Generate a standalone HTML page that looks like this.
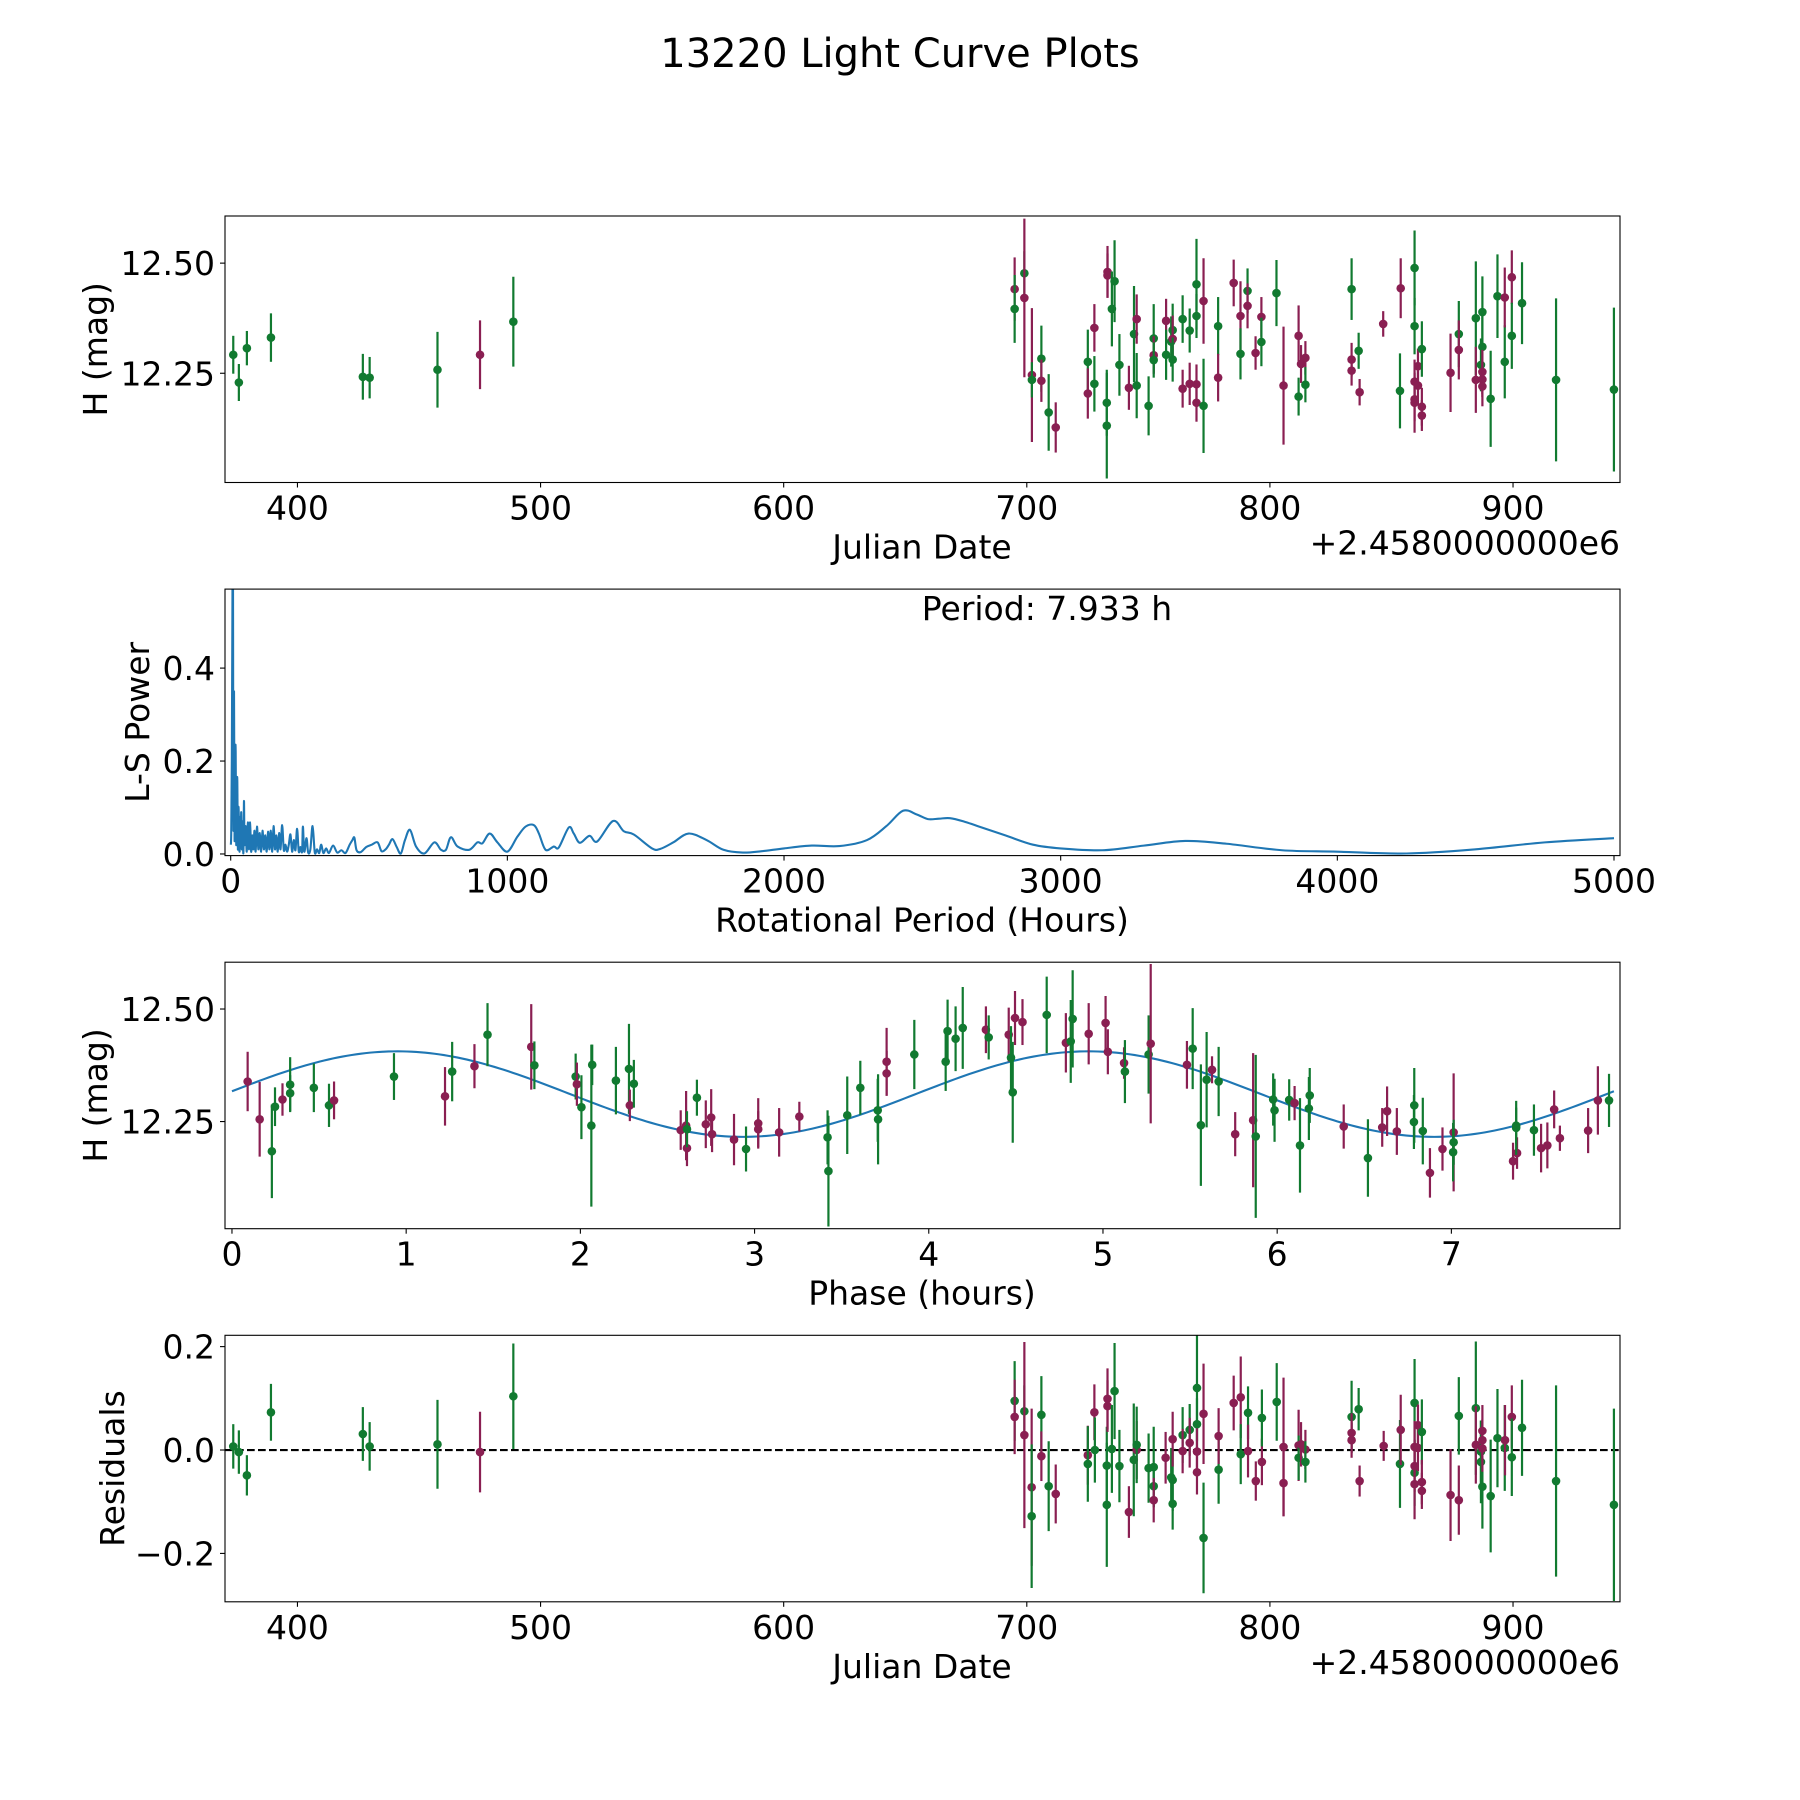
<!DOCTYPE html>
<html><head><meta charset="utf-8"><style>
html,body{margin:0;padding:0;background:#fff;}
svg{display:block;font-family:"DejaVu Sans","Liberation Sans",sans-serif;}
</style></head><body>
<svg id="fig" xmlns="http://www.w3.org/2000/svg" width="1800" height="1800" viewBox="0 0 1800 1800">
<rect x="0" y="0" width="1800" height="1800" fill="#fff"/>
<text x="900" y="67" font-size="40" text-anchor="middle">13220 Light Curve Plots</text>
</svg>
<script>
// ---- Panel 1: light curve vs Julian date ----
const p1Jd=[373.6,375.9,379.2,389.1,426.9,429.7,457.6,475.1,488.8,695,695,699,699,702.1,702.1,706,706,709,711.9,725.1,725.1,727.8,727.8,732.9,732.9,733.2,733.2,735,736.1,738.1,742,744.1,745.2,745.2,750.1,752.2,752.2,752.2,757.3,757.3,759.4,760,760,760,764.1,764.1,767,767,769.8,769.8,769.8,769.8,772.7,772.7,778.7,778.7,785.1,787.9,787.9,790.8,790.8,794.1,796.5,796.5,802.7,805.6,811.8,811.8,812.8,814.6,814.6,833.6,833.6,833.6,836.5,836.9,846.6,853.5,853.8,859.5,859.5,859.5,859.5,859.5,860.9,860.9,862.5,862.5,862.5,874.3,877.7,877.7,884.7,884.7,886.8,887.4,887.4,887.4,887.4,887.4,890.8,893.6,896.6,896.6,899.5,899.5,903.7,917.7,941.5];
const p1Mag=[12.292,12.229,12.307,12.331,12.242,12.240,12.258,12.292,12.367,12.441,12.396,12.477,12.421,12.246,12.235,12.283,12.233,12.161,12.127,12.276,12.204,12.353,12.226,12.183,12.131,12.480,12.472,12.396,12.459,12.269,12.217,12.339,12.373,12.222,12.176,12.329,12.291,12.280,12.369,12.292,12.322,12.348,12.328,12.281,12.373,12.215,12.347,12.226,12.452,12.380,12.225,12.183,12.176,12.414,12.357,12.240,12.455,12.380,12.294,12.437,12.403,12.296,12.378,12.321,12.432,12.222,12.335,12.197,12.271,12.285,12.224,12.441,12.281,12.256,12.301,12.207,12.362,12.210,12.443,12.489,12.357,12.231,12.191,12.183,12.266,12.222,12.305,12.174,12.154,12.251,12.339,12.303,12.375,12.235,12.269,12.389,12.310,12.253,12.236,12.220,12.192,12.425,12.276,12.422,12.468,12.335,12.409,12.235,12.213];
const p1Err=[.043,.042,.039,.055,.052,.047,.086,.078,.102,.072,.077,.05,.18,.152,.04,.075,.048,.087,.057,.073,.057,.054,.063,.075,.12,.059,.05,.085,.093,.07,.05,.109,.056,.074,.067,.078,.043,.04,.05,.057,.057,.06,.053,.05,.054,.043,.05,.048,.103,.05,.045,.043,.107,.097,.066,.054,.053,.079,.058,.051,.051,.038,.045,.055,.075,.134,.069,.043,.043,.038,.04,.07,.038,.034,.041,.03,.029,.085,.068,.085,.064,.05,.05,.068,.04,.045,.063,.043,.035,.089,.075,.067,.129,.075,.06,.081,.08,.05,.04,.045,.109,.095,.083,.068,.061,.075,.093,.185,.186];
const p1Col=("gggggggmg"+"mggmmggmgm"+"gmmgggmmgg"+"gmgmgggmgm"+"gggmggmgmg"+"gmmgmgmmmg"+"gmmmggmmgm"+"mggmmgmmgm"+"ggmmmmmgmm"+"mgmgmgggmm"+"mgggmmgggg").split('');
const p1XTicks=[400,500,600,700,800,900];
const p1YTicks=[12.25,12.50];
const p1YTickLabels=["12.25","12.50"];

// ---- Panel 2: Lomb-Scargle periodogram ----
const lsPeriod=[0.5,2,4,6,7.9,9,10,12,14,16,18,20,22,24,26,28,30,32,34,36,38,40,42,44,46,48,50,54,58,62,66,70,74,78,82,86,90,95,100,105,110,115,120,125,130,135,140,145,150,155,160,165,170,175,180,186,192,198,204,210,216,222,228,234,240,246,252,258,261,266,274,280,288,296,304,312,320,327,335,345,355,370,385,400,415,430,440,447,455,470,490,510,531,545,560,572,585,600,615,630,648,670,700,736,760,778,796,820,862,892,910,936,964,1000,1036,1066,1096,1114,1138,1168,1186,1222,1240,1262,1297,1325,1382,1421,1457,1523,1553,1600,1655,1720,1781,1851,1920,2000,2100,2200,2300,2370,2430,2480,2520,2560,2600,2650,2700,2800,2900,3000,3150,3300,3450,3600,3800,4000,4250,4500,4750,5000];
const lsPower=[0.02,0.05,0.2,0.5,0.75,0.3,0.05,0.35,0.03,0.2,0.22,0.02,0.14,0.155,0.01,0.1,0.06,0.005,0.08,0.02,0.09,0.01,0.07,0.03,0.005,0.114,0.02,0.06,0.005,0.068,0.01,0.068,0.005,0.04,0.01,0.05,0.005,0.059,0.01,0.045,0.005,0.05,0.01,0.04,0.005,0.048,0.01,0.05,0.005,0.06,0.01,0.04,0.005,0.045,0.01,0.062,0.008,0.02,0.005,0.02,0.042,0.005,0.03,0.008,0.054,0.005,0.015,0.005,0.059,0.005,0.034,0.003,0.01,0.06,0.003,0.01,0.002,0.02,0.002,0.012,0.002,0.018,0.003,0.008,0.002,0.02,0.03,0.035,0.008,0.004,0.015,0.02,0.025,0.006,0.01,0.02,0.032,0.015,0.001,0.03,0.052,0.016,0.001,0.025,0.009,0.009,0.036,0.016,0.009,0.025,0.023,0.044,0.025,0.005,0.037,0.059,0.062,0.044,0.009,0.016,0.014,0.057,0.044,0.024,0.039,0.027,0.071,0.049,0.042,0.012,0.011,0.025,0.044,0.03,0.009,0.003,0.006,0.012,0.018,0.017,0.03,0.06,0.093,0.085,0.075,0.076,0.077,0.07,0.06,0.04,0.02,0.012,0.008,0.018,0.028,0.022,0.008,0.005,0.001,0.01,0.025,0.034];
const p2XTicks=[0,1000,2000,3000,4000,5000];
const p2YTicks=[0.0,0.2,0.4];
const p2YTickLabels=["0.0","0.2","0.4"];

// ---- Panel 3: phase-folded light curve ----
const phPhase=[.090,.159,.229,.247,.290,.334,.334,.470,.557,.586,.930,1.223,1.264,1.392,1.467,1.718,1.736,1.973,1.980,2.006,2.068,2.063,2.204,2.279,2.284,2.307,2.576,2.607,2.612,2.612,2.669,2.720,2.751,2.756,2.882,2.951,3.021,3.021,3.141,3.257,3.419,3.424,3.532,3.607,3.707,3.709,3.758,3.758,3.917,4.097,4.108,4.154,4.195,4.328,4.344,4.459,4.472,4.482,4.495,4.538,4.677,4.787,4.815,4.826,4.918,5.015,5.028,5.121,5.126,5.262,5.274,5.482,5.515,5.562,5.595,5.626,5.664,5.759,5.862,5.877,5.977,5.985,6.069,6.100,6.131,6.182,6.187,6.382,6.521,6.603,6.631,6.687,6.787,6.785,6.836,6.877,6.949,7.013,7.013,7.010,7.354,7.372,7.377,7.372,7.474,7.515,7.551,7.590,7.623,7.785,7.841,7.905];
const phMag=[12.339,12.255,12.184,12.283,12.299,12.332,12.313,12.325,12.286,12.297,12.350,12.306,12.361,12.373,12.443,12.416,12.375,12.350,12.333,12.282,12.376,12.241,12.341,12.367,12.286,12.334,12.231,12.241,12.191,12.233,12.303,12.244,12.259,12.222,12.210,12.189,12.246,12.233,12.226,12.261,12.215,12.140,12.264,12.325,12.275,12.255,12.383,12.357,12.399,12.383,12.451,12.434,12.458,12.454,12.437,12.443,12.392,12.315,12.480,12.471,12.487,12.425,12.428,12.478,12.445,12.469,12.405,12.380,12.361,12.399,12.423,12.376,12.412,12.242,12.343,12.365,12.339,12.222,12.253,12.217,12.299,12.275,12.298,12.291,12.197,12.279,12.308,12.239,12.169,12.237,12.273,12.228,12.286,12.249,12.229,12.136,12.189,12.226,12.204,12.182,12.162,12.241,12.180,12.236,12.231,12.191,12.197,12.277,12.213,12.230,12.297,12.297];
const phErr=[.066,.083,.104,.043,.036,.061,.04,.054,.048,.042,.052,.065,.066,.049,.07,.095,.053,.051,.048,.071,.045,.18,.075,.1,.035,.053,.044,.077,.04,.04,.04,.053,.063,.04,.057,.05,.056,.04,.054,.033,.06,.123,.086,.06,.07,.1,.075,.05,.077,.065,.07,.072,.091,.052,.049,.06,.07,.112,.06,.051,.085,.066,.092,.108,.068,.06,.05,.035,.07,.087,.177,.053,.09,.135,.106,.03,.077,.049,.149,.181,.058,.07,.046,.038,.105,.07,.061,.049,.086,.043,.055,.052,.083,.06,.074,.055,.048,.131,.05,.065,.041,.04,.035,.06,.057,.054,.051,.042,.028,.05,.076,.059];
const phCol=("mmggmggggm"+"gmgmgmggmg"+"ggggmgmmmg"+"gmmmmgmmmm"+"ggggggmmg"+"ggggmgmggm"+"mgmggmmmmg"+"gmmgggmgmm"+"ggggmgggmg"+"mmmgggmmmg"+"gmgmggmmmm"+"mmg").split('');
const fitMean=[12.311];
const fitAmp=[0.095];
const fitPeakPhase=[0.95];
const fitPeriod=[7.933];
const p3XTicks=[0,1,2,3,4,5,6,7];
const p3YTicks=[12.25,12.50];
const p3YTickLabels=["12.25","12.50"];

// ---- Panel 4: residuals ----
const resJd=[373.6,375.9,379.2,389.1,426.9,429.7,457.6,475.1,488.8,695,695,699,699,702,702,706,706,709,711.9,725.1,725.1,727.8,728,732.9,732.9,733.2,733.2,735,736.1,738.1,742,744,745.2,745.2,750.1,752.2,752.2,752.2,757.1,759.4,760,760,760,764.1,764.1,767,767,770,770,770,770,772.7,772.7,778.9,778.9,785.1,788,788,791,791,794.2,796.7,796.7,802.8,805.6,805.6,811.8,811.8,812.8,814.6,814.6,833.6,833.6,833.6,836.5,836.9,846.8,853.5,853.8,859.5,859.5,859.5,859.5,859.5,860.9,860.9,862.5,862.5,862.5,874.3,877.7,877.7,884.7,884.7,886.8,886.8,887.4,887.4,887.4,887.4,890.8,893.6,896.6,896.7,899.5,899.5,903.7,917.7,941.5];
const resVal=[.007,-.004,-.049,.073,.031,.007,.011,-.004,.104,.095,.064,.075,.029,-.072,-.128,.068,-.012,-.070,-.085,-.010,-.027,.073,0,-.030,-.106,.099,.085,.002,.114,-.031,-.120,-.019,0,.010,-.035,-.033,-.070,-.097,-.015,-.053,-.058,-.104,.021,.029,-.002,.039,.014,.120,.050,-.003,-.043,-.170,.070,-.038,.027,.091,.102,-.008,.072,-.002,-.060,-.023,.062,.093,.006,-.064,.009,-.015,.011,.001,-.023,.064,.033,.019,.079,-.060,.008,-.027,.039,.091,-.044,.006,-.031,-.066,.048,.004,.035,-.062,-.079,-.087,.066,-.097,.081,.010,-.003,-.023,-.071,.037,.019,.003,-.089,.023,.004,.019,.064,-.014,.043,-.060,-.106];
const resErr=[.043,.042,.039,.055,.052,.047,.086,.078,.102,.077,.072,.05,.18,.152,.139,.075,.048,.087,.057,.057,.073,.054,.063,.075,.12,.059,.05,.085,.093,.07,.05,.109,.056,.074,.067,.078,.04,.043,.05,.057,.06,.05,.053,.054,.043,.05,.048,.103,.05,.045,.043,.107,.097,.066,.054,.053,.079,.058,.051,.051,.038,.045,.055,.075,.134,.064,.069,.043,.043,.038,.04,.07,.038,.034,.041,.03,.029,.085,.068,.085,.064,.05,.05,.068,.04,.045,.063,.043,.035,.089,.075,.067,.129,.075,.06,.08,.081,.05,.04,.045,.109,.095,.083,.068,.061,.075,.093,.185,.186];
const resCol=("gggggggmg"+"gmgmmggmgm"+"mgmgggmmgg"+"gmgmggggmm"+"gggmgmgmgg"+"mmgmgmmmgg"+"mmmggmmmgm"+"mggmmgmmgm"+"ggmmmmmgmm"+"mgmgmgggmm"+"mgggmmgggg").split('');
const p4XTicks=[400,500,600,700,800,900];
const p4YTicks=[-0.2,0.0,0.2];
const p4YTickLabels=["\u22120.2","0.0","0.2"];

const NS='http://www.w3.org/2000/svg';
const svg=document.getElementById('fig');
const COL={g:'#117a30',m:'#8a1f52'};
const L=225,R=1620;
function mk(tag,attrs,parent){const e=document.createElementNS(NS,tag);for(const k in attrs)e.setAttribute(k,attrs[k]);(parent||svg).appendChild(e);return e;}
function txt(s,attrs,parent){const e=mk('text',attrs,parent);e.textContent=s;return e;}

function panel(name,top,bot,xmin,xmax,ymin,ymax){
  const g=mk('g',{});
  
  
  const sx=v=>L+(v-xmin)/(xmax-xmin)*(R-L);
  const sy=v=>bot-(v-ymin)/(ymax-ymin)*(bot-top);
  const clipId='clip-'+name;
  const cp=mk('clipPath',{id:clipId},g);
  mk('rect',{x:L,y:top,width:R-L,height:bot-top},cp);
  const plot=mk('g',{'clip-path':'url(#'+clipId+')'},g);
  
  
  return {g,plot,sx,sy,top,bot};
}
function frame(P){
  const r=mk('rect',{x:L,y:P.top,width:R-L,height:P.bot-P.top,fill:'none',stroke:'#000','stroke-width':1.1},P.g);
  
  
}
function xTicks(P,ticks,labels){
  ticks.forEach((t,i)=>{
    const x=P.sx(t);
    const l=mk('line',{x1:x,x2:x,y1:P.bot,y2:P.bot+5,stroke:'#000','stroke-width':1.1},P.g);
    
    
    const tt=txt(labels?labels[i]:String(t),{x:x,y:P.bot+37,'font-size':33,'text-anchor':'middle'},P.g);
    
    
  });
}
function yTicks(P,ticks,labels){
  ticks.forEach((t,i)=>{
    const y=P.sy(t);
    const l=mk('line',{x1:L-5,x2:L,y1:y,y2:y,stroke:'#000','stroke-width':1.1},P.g);
    
    
    const tt=txt(labels[i],{x:L-10,y:y+12,'font-size':33,'text-anchor':'end'},P.g);
    
    
  });
}
function xLabel(P,s,cx){
  const t=txt(s,{x:cx,y:P.bot+76,'font-size':33,'text-anchor':'middle'},P.g);
  
  
}
function yLabel(P,s,x){
  const cy=(P.top+P.bot)/2;
  const t=txt(s,{x:x,y:cy,'font-size':33,'text-anchor':'middle',transform:'rotate(-90 '+x+' '+cy+')'},P.g);
  
  
}
function errPoints(P,xs,ys,es,cs,nm){
  const n=Math.min(xs.length,ys.length,es.length,cs.length);
  for(let i=0;i<n;i++){
    const c=COL[cs[i]]||COL.g;
    const x=P.sx(xs[i]);
    const b=mk('line',{x1:x,x2:x,y1:P.sy(ys[i]+es[i]),y2:P.sy(ys[i]-es[i]),stroke:c,'stroke-width':2.2},P.plot);
    
    
    const d=mk('circle',{cx:x,cy:P.sy(ys[i]),r:4.3,fill:c},P.plot);
    
    
  }
}
function offsetText(P){
  const t=txt('+2.4580000000e6',{x:R,y:P.bot+72,'font-size':33,'text-anchor':'end'},P.g);
  
  
}

// Panel 1
const P1=panel('light-curve-panel',216,482.5,370.2,944,12.002,12.607);
errPoints(P1,p1Jd,p1Mag,p1Err,p1Col,'magnitude');
frame(P1);xTicks(P1,p1XTicks);yTicks(P1,p1YTicks,p1YTickLabels);
xLabel(P1,'Julian Date',922);offsetText(P1);yLabel(P1,'H (mag)',107);

// Panel 2
const P2=panel('periodogram-panel',589.1,855.6,-20.6,5021.7,-0.0035,0.570);
{
  const pts=[];const n=Math.min(lsPeriod.length,lsPower.length);
  for(let i=0;i<n;i++)pts.push([P2.sx(lsPeriod[i]),P2.sy(lsPower[i])]);
  let d='M'+pts[0][0].toFixed(2)+','+pts[0][1].toFixed(2);
  for(let i=0;i<pts.length-1;i++){
    const p0=pts[Math.max(0,i-1)],p1=pts[i],p2=pts[i+1],p3=pts[Math.min(pts.length-1,i+2)];
    const c1x=p1[0]+(p2[0]-p0[0])/6,c1y=p1[1]+(p2[1]-p0[1])/6;
    const c2x=p2[0]-(p3[0]-p1[0])/6,c2y=p2[1]-(p3[1]-p1[1])/6;
    d+=' C'+c1x.toFixed(2)+','+c1y.toFixed(2)+' '+c2x.toFixed(2)+','+c2y.toFixed(2)+' '+p2[0].toFixed(2)+','+p2[1].toFixed(2);
  }
  const ln=mk('path',{d:d,fill:'none',stroke:'#1f77b4','stroke-width':2.1,'stroke-linejoin':'round'},P2.plot);
  
  
}
frame(P2);xTicks(P2,p2XTicks);yTicks(P2,p2YTicks,p2YTickLabels);
xLabel(P2,'Rotational Period (Hours)',922);yLabel(P2,'L-S Power',149);
{
  const t=txt('Period: 7.933 h',{x:1047,y:620,'font-size':33,'text-anchor':'middle'},P2.g);
  
  
}

// Panel 3
const P3=panel('phase-panel',962.2,1228.7,-0.04,7.968,12.012,12.604);
{
  let d='';const N=300;
  for(let k=0;k<=N;k++){
    const ph=fitPeriod[0]*k/N;
    const m=fitMean[0]+fitAmp[0]*Math.cos(4*Math.PI*(ph-fitPeakPhase[0])/fitPeriod[0]);
    d+=(k?' L':'M')+P3.sx(ph).toFixed(2)+','+P3.sy(m).toFixed(2);
  }
  const ln=mk('path',{d:d,fill:'none',stroke:'#1f77b4','stroke-width':2.1},P3.plot);
  
  
}
errPoints(P3,phPhase,phMag,phErr,phCol,'phase');
frame(P3);xTicks(P3,p3XTicks);yTicks(P3,p3YTicks,p3YTickLabels);
xLabel(P3,'Phase (hours)',922);yLabel(P3,'H (mag)',107);

// Panel 4
const P4=panel('residuals-panel',1335.3,1601.8,370.2,944,-0.2936,0.2219);
{
  const y0=P4.sy(0);
  const z=mk('line',{x1:L,x2:R,y1:y0,y2:y0,stroke:'#000','stroke-width':2.1,'stroke-dasharray':'7.7 3.3'},P4.plot);
  
  
}
errPoints(P4,resJd,resVal,resErr,resCol,'residual');
frame(P4);xTicks(P4,p4XTicks);yTicks(P4,p4YTicks,p4YTickLabels);
xLabel(P4,'Julian Date',922);offsetText(P4);yLabel(P4,'Residuals',124);
</script>
</body></html>
